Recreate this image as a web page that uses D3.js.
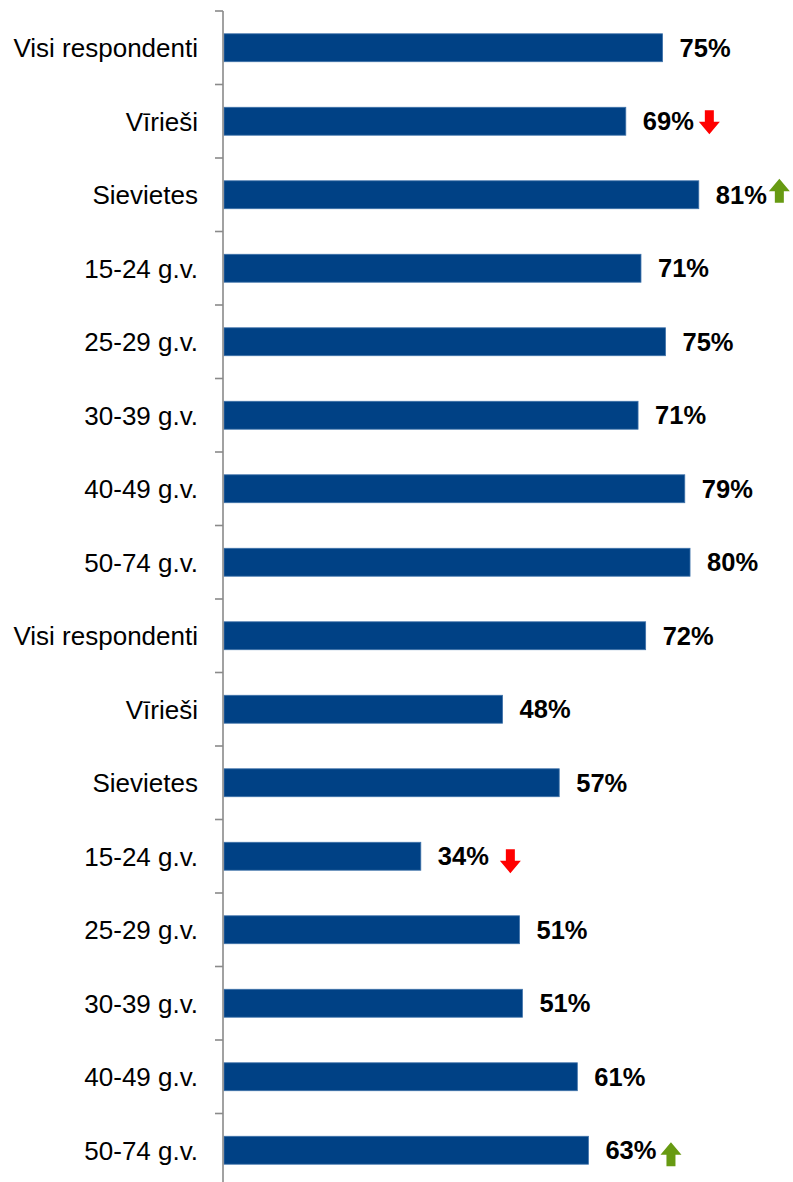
<!DOCTYPE html>
<html>
<head>
<meta charset="utf-8">
<script src="https://cdn.jsdelivr.net/npm/d3@7"></script>
<style>
  body { margin: 0; background: #fff; }
  svg { display: block; font-family: "Liberation Sans", Arial, sans-serif; }
  .cat-label { font-size: 26px; fill: #000; }
  .val-label { font-size: 25.5px; font-weight: bold; fill: #000; }
</style>
</head>
<body>
<svg class="chart"></svg>
<script>
const WIDTH = 793
const HEIGHT = 1182

// categories (top to bottom)
const categories = [
  'Visi respondenti', 'Vīrieši', 'Sievietes', '15-24 g.v.', '25-29 g.v.',
  '30-39 g.v.', '40-49 g.v.', '50-74 g.v.',
  'Visi respondenti', 'Vīrieši', 'Sievietes', '15-24 g.v.', '25-29 g.v.',
  '30-39 g.v.', '40-49 g.v.', '50-74 g.v.'
]

const values = [75.1, 68.8, 81.3, 71.4, 75.6, 70.9, 78.9, 79.8, 72.2, 47.7, 57.4, 33.7, 50.6, 51.1, 60.5, 62.4]
const labels = ['75%', '69%', '81%', '71%', '75%', '71%', '79%', '80%', '72%', '48%', '57%', '34%', '51%', '51%', '61%', '63%']

// significance arrows: index of bar -> direction
const arrowIndex = [1, 2, 11, 15]
const arrowDir = ['down', 'up', 'down', 'up']

// small placement tweaks for the arrows (gap after label, vertical nudge)
const ARROW_GAP = [5, 2, 11, 4]
const ARROW_DY = [1, -4, 5, 4]

const AXIS_X = 223
const TOP = 11
const STEP = 73.5
const PX_PER_PCT = 5.84

const svg = d3.select('.chart')
  .attr('width', WIDTH)
  .attr('height', HEIGHT)

const keys = categories.map((c, i) => i)

const y = d3.scaleBand()
  .domain(keys)
  .range([TOP, TOP + STEP * categories.length])
  .paddingInner(0.62)
  .paddingOuter(0.31)

const x = d3.scaleLinear()
  .domain([0, 100])
  .range([AXIS_X + 1, AXIS_X + 1 + PX_PER_PCT * 100])

// bars
svg.selectAll('.bar')
  .data(values)
  .enter()
  .append('rect')
  .attr('class', 'bar')
  .attr('x', x(0))
  .attr('y', (d, i) => y(i))
  .attr('width', d => x(d) - x(0))
  .attr('height', y.bandwidth())
  .attr('fill', '#004185')
  .attr('stroke', '#3f72aa')
  .attr('stroke-width', 0.8)

// axis line + ticks at band boundaries
const boundaries = keys.map(i => y(i) - y.step() * y.paddingInner() / 2)
boundaries[0] = TOP
svg.append('line')
  .attr('x1', AXIS_X).attr('x2', AXIS_X)
  .attr('y1', TOP).attr('y2', HEIGHT)
  .attr('stroke', '#8a8a8a')
  .attr('stroke-width', 1.6)

svg.selectAll('.tick')
  .data(boundaries)
  .enter()
  .append('line')
  .attr('class', 'tick')
  .attr('x1', AXIS_X - 8).attr('x2', AXIS_X)
  .attr('y1', d => d).attr('y2', d => d)
  .attr('stroke', '#8a8a8a')
  .attr('stroke-width', 1.6)

// category labels
svg.selectAll('.cat-label')
  .data(categories)
  .enter()
  .append('text')
  .attr('class', 'cat-label')
  .attr('x', AXIS_X - 25)
  .attr('y', (d, i) => y(i) + y.bandwidth() / 2)
  .attr('dy', '0.36em')
  .attr('text-anchor', 'end')
  .text(d => d)

// value labels
const valLabels = svg.selectAll('.val-label')
  .data(values)
  .enter()
  .append('text')
  .attr('class', 'val-label')
  .attr('x', d => x(d) + 17)
  .attr('y', (d, i) => y(i) + y.bandwidth() / 2)
  .attr('dy', '0.36em')
  .text((d, i) => labels[i])

// arrows
const labelNodes = valLabels.nodes()
arrowIndex.forEach((idx, k) => {
  const box = labelNodes[idx].getBBox()
  const w = 21, h = 24, shaft = 9, head = 12.5
  const cx = box.x + box.width + ARROW_GAP[k] + w / 2
  const cy = y(idx) + y.bandwidth() / 2 + ARROW_DY[k]
  const s = arrowDir[k] === 'down' ? 1 : -1
  const top = cy - s * h / 2
  const neck = cy + s * (h / 2 - head)
  const tip = cy + s * h / 2
  const pts = [
    [cx - shaft / 2, top], [cx + shaft / 2, top], [cx + shaft / 2, neck],
    [cx + w / 2, neck], [cx, tip], [cx - w / 2, neck], [cx - shaft / 2, neck]
  ]
  svg.append('path')
    .attr('d', d3.line()(pts) + 'Z')
    .attr('fill', arrowDir[k] === 'down' ? '#ff0000' : '#679a12')
})
</script>
</body>
</html>
